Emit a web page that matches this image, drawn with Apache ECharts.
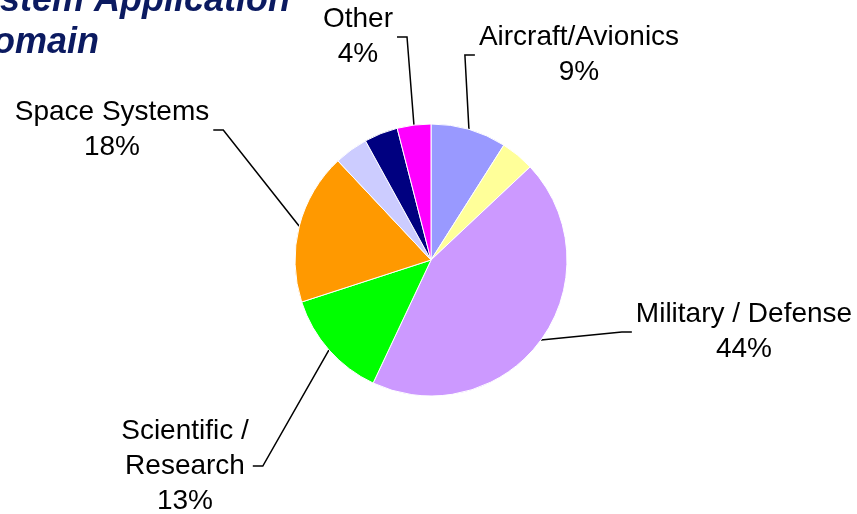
<!DOCTYPE html>
<html>
<head>
<meta charset="utf-8">
<script src="https://cdn.jsdelivr.net/npm/echarts@6/dist/echarts.min.js"></script>
<style>
  html, body { margin: 0; padding: 0; background: #ffffff; }
  #chart { width: 857px; height: 514px; }
</style>
</head>
<body>
<div id="chart"></div>
<script>
// Application domain shares (percent), clockwise from 12 o'clock
const categories = ['Aircraft/Avionics', '', 'Military / Defense', 'Scientific /\nResearch', 'Space Systems', '', '', 'Other'];
const shares = [9, 4, 44, 13, 18, 4, 4, 4];
const colors = ['#9999FF', '#FFFF99', '#CC99FF', '#00FF00', '#FF9900', '#CCCCFF', '#000080', '#FF00FF'];
const titleLines = ['System Application', 'Domain'];

// Where each label block sits (its centre) and which side the leader line joins
const labelPlacement = {
  0: { x: 579, y: 55, side: 'left' },
  2: { x: 744, y: 332, side: 'left' },
  3: { x: 185, y: 466, side: 'right' },
  4: { x: 112, y: 130, side: 'right' },
  7: { x: 358, y: 37, side: 'right' }
};

const chart = echarts.init(document.getElementById('chart'), null, { renderer: 'canvas' });

const seriesData = categories.map(function (name, i) {
  const labelled = name !== '';
  return {
    name: name,
    value: shares[i],
    itemStyle: { color: colors[i] },
    label: { show: labelled },
    labelLine: { show: labelled }
  };
});

const titleStyle = {
  fontFamily: 'Liberation Sans',
  fontSize: 36,
  fontWeight: 'bold',
  fontStyle: 'italic',
  fill: '#0b1a60',
  verticalAlign: 'middle'
};

chart.setOption({
  animation: false,
  backgroundColor: '#ffffff',
  graphic: [
    { type: 'text', x: -44, y: 1, style: Object.assign({ text: titleLines[0] }, titleStyle) },
    { type: 'text', x: -33, y: 43, style: Object.assign({ text: titleLines[1] }, titleStyle) }
  ],
  series: [{
    type: 'pie',
    center: [431, 260],
    radius: 136,
    startAngle: 90,
    clockwise: true,
    avoidLabelOverlap: false,
    itemStyle: { borderColor: '#ffffff', borderWidth: 1 },
    emphasis: { disabled: true },
    label: {
      position: 'outside',
      formatter: function (p) { return p.name + '\n' + p.percent + '%'; },
      color: '#000000',
      fontFamily: 'Liberation Sans',
      fontSize: 28,
      lineHeight: 35,
      align: 'center'
    },
    labelLine: {
      length: 10,
      length2: 10,
      lineStyle: { color: '#000000', width: 1.5 }
    },
    labelLayout: function (p) {
      const place = labelPlacement[p.dataIndex];
      if (!place) return {};
      const w = p.labelRect.width;
      const gap = 4;
      const edgeX = place.side === 'left' ? place.x - w / 2 - gap : place.x + w / 2 + gap;
      const elbowX = place.side === 'left' ? edgeX - 10 : edgeX + 10;
      const start = p.labelLinePoints ? p.labelLinePoints[0] : [elbowX, place.y];
      return {
        x: place.x,
        y: place.y,
        align: 'center',
        verticalAlign: 'middle',
        labelLinePoints: [start, [elbowX, place.y], [edgeX, place.y]]
      };
    },
    data: seriesData
  }]
});
</script>
</body>
</html>
